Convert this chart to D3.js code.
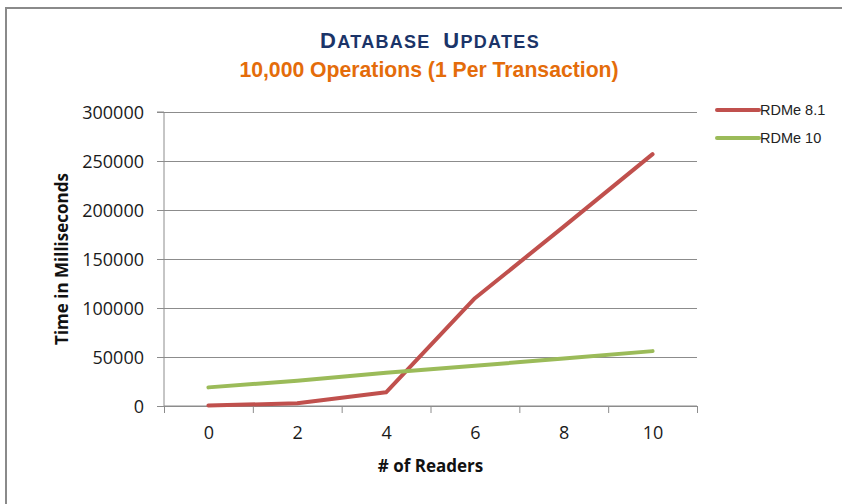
<!DOCTYPE html>
<html>
<head>
<meta charset="utf-8">
<script src="https://cdn.jsdelivr.net/npm/d3@7"></script>
<style>
  html, body { margin: 0; padding: 0; background: #fff; }
  svg { display: block; }
</style>
</head>
<body>
<div id="chart"></div>
<script>
// readers on x, time (ms) on y
const readers = [0, 2, 4, 6, 8, 10];
const rdme81 = [500, 2700, 14000, 110000, 183000, 257000];
const rdme10 = [19000, 25700, 34000, 41000, 48500, 56000];
const seriesNames = ['RDMe 8.1', 'RDMe 10'];
const yTicks = [0, 50000, 100000, 150000, 200000, 250000, 300000];

const width = 842;
const height = 504;
const colors = ['#C0504D', '#9BBB59'];
const tickFont = '"Open Sans", sans-serif';

const svg = d3.select('#chart')
  .append('svg')
  .attr('width', width)
  .attr('height', height);

// outer chart frame, runs off the right and bottom edges
svg.append('rect')
  .attr('x', 6)
  .attr('y', 8)
  .attr('width', 900)
  .attr('height', 600)
  .attr('fill', '#fff')
  .attr('stroke', '#8a8a8a')
  .attr('stroke-width', 2);

const margin = { top: 112, left: 164, right: 145, bottom: 98 };
const plotW = width - margin.left - margin.right;
const plotH = height - margin.top - margin.bottom;

const chart = svg.append('g')
  .attr('transform', `translate(${margin.left},${margin.top})`);

// categories sit in the middle of each band, ticks on the band edges
const xScale = d3.scaleLinear()
  .domain([readers[0] - 1, readers[readers.length - 1] + 1])
  .range([0, plotW]);
const yScale = d3.scaleLinear()
  .domain([0, 300000])
  .range([plotH, 0]);

// gridlines
chart.append('g')
  .classed('gridline', true)
  .call(d3.axisLeft(yScale).tickValues(yTicks).tickSize(-plotW).tickFormat(''))
  .call(g => g.select('.domain').remove())
  .call(g => g.selectAll('line').attr('stroke', '#8c8c8c'));

// y axis
const yAxis = chart.append('g')
  .classed('y axis', true)
  .call(d3.axisLeft(yScale).tickValues(yTicks).tickSize(7).tickPadding(13).tickFormat(d3.format('d')));
yAxis.select('.domain').attr('stroke', '#8c8c8c').attr('d', `M-7,0H0V${plotH}`);
yAxis.selectAll('line').attr('stroke', '#8c8c8c');
yAxis.selectAll('text')
  .attr('fill', '#1a1a1a')
  .attr('dy', '0.34em')
  .style('font-family', tickFont)
  .style('font-size', '18px');

// x axis: edge ticks, then centred labels
const edges = d3.range(readers[0] - 1, readers[readers.length - 1] + 2, 2);
const xAxis = chart.append('g')
  .classed('x axis', true)
  .attr('transform', `translate(0,${plotH})`)
  .call(d3.axisBottom(xScale).tickValues(edges).tickSize(7).tickFormat(''));
xAxis.select('.domain').attr('stroke', '#8c8c8c').attr('d', `M0,0H${plotW}`);
xAxis.selectAll('line').attr('stroke', '#8c8c8c');

const xLabels = chart.append('g')
  .attr('transform', `translate(0,${plotH})`)
  .call(d3.axisBottom(xScale).tickValues(readers).tickSize(0).tickPadding(20).tickFormat(d3.format('d')));
xLabels.select('.domain').remove();
xLabels.selectAll('text')
  .attr('fill', '#1a1a1a')
  .style('font-family', tickFont)
  .style('font-size', '18px');

// lines
const line = d3.line()
  .x((d, i) => xScale(readers[i]))
  .y(d => yScale(d));

[rdme81, rdme10].forEach((values, i) => {
  chart.append('path')
    .datum(values)
    .attr('fill', 'none')
    .attr('stroke', colors[i])
    .attr('stroke-width', 4)
    .attr('stroke-linejoin', 'round')
    .attr('stroke-linecap', 'round')
    .attr('d', line);
});

// axis titles
svg.append('text')
  .attr('transform', `translate(68,${margin.top + plotH / 2}) rotate(-90)`)
  .attr('text-anchor', 'middle')
  .attr('fill', '#111')
  .style('font-family', tickFont)
  .style('font-weight', 'bold')
  .style('font-size', '17px')
  .text('Time in Milliseconds');

svg.append('text')
  .attr('x', margin.left + plotW / 2)
  .attr('y', 472)
  .attr('text-anchor', 'middle')
  .attr('fill', '#111')
  .style('font-family', tickFont)
  .style('font-weight', 'bold')
  .style('font-size', '17px')
  .text('# of Readers');

// titles (small caps built from tspans)
const title = svg.append('text')
  .attr('x', 430)
  .attr('y', 48)
  .attr('text-anchor', 'middle')
  .attr('fill', '#1B3468')
  .style('font-family', '"Liberation Sans", Arial, sans-serif')
  .style('font-weight', 'bold')
  .style('letter-spacing', '1.3px');
[['D', 22], ['ATABASE', 18], ['\u00a0\u00a0', 18], ['U', 22], ['PDATES', 18]].forEach(([t, s]) => {
  title.append('tspan').style('font-size', s + 'px').text(t);
});

svg.append('text')
  .attr('x', 429)
  .attr('y', 77)
  .attr('text-anchor', 'middle')
  .attr('fill', '#E46C0A')
  .style('font-family', '"Liberation Sans", Arial, sans-serif')
  .style('font-weight', 'bold')
  .style('font-size', '21.2px')
  .text('10,000 Operations (1 Per Transaction)');

// legend
const legend = svg.append('g')
  .attr('transform', 'translate(717,110)');
seriesNames.forEach((name, i) => {
  const row = legend.append('g').attr('transform', `translate(0,${i * 28})`);
  row.append('line')
    .attr('x1', 0)
    .attr('x2', 42)
    .attr('stroke', colors[i])
    .attr('stroke-width', 4)
    .attr('stroke-linecap', 'round');
  row.append('text')
    .attr('x', 43)
    .attr('dy', '0.35em')
    .attr('fill', '#222')
    .style('font-family', '"Liberation Sans", Arial, sans-serif')
    .style('font-size', '14.5px')
    .text(name);
});
</script>
</body>
</html>
